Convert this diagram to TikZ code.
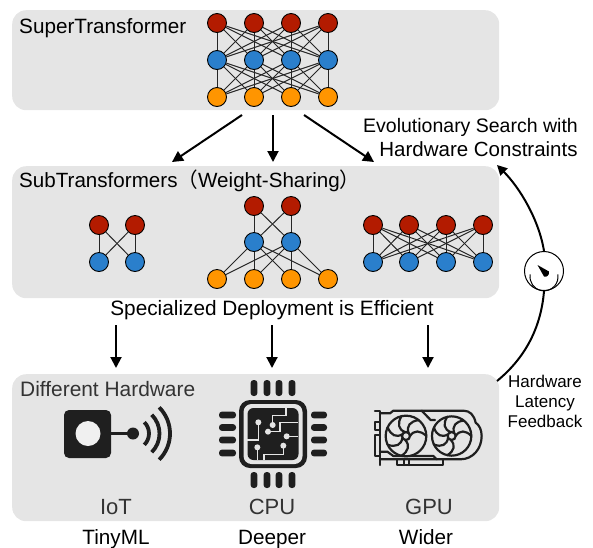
\documentclass[tikz,border=0pt]{standalone}
\usepackage{fontspec}
\setmainfont{Liberation Sans}
\newfontfamily\cjk{Noto Sans CJK SC}
\usetikzlibrary{arrows.meta}
\definecolor{panelgray}{HTML}{E5E5E5}
\definecolor{nred}{HTML}{B31B00}
\definecolor{nblue}{HTML}{2A7FCC}
\definecolor{norange}{HTML}{FF9500}
\definecolor{ink}{HTML}{1F1F1F}
\definecolor{softink}{HTML}{333333}
\tikzset{
  panel/.style={draw=none,fill=panelgray,rounded corners=14pt,inner sep=0pt,minimum width=487pt,anchor=north west},
  neuron/.style={circle,draw=black,line width=0.9pt,minimum size=19pt,inner sep=0pt},
  redn/.style={neuron,fill=nred},
  bluen/.style={neuron,fill=nblue},
  orangen/.style={neuron,fill=norange},
  syn/.style={draw=black!85,line width=1pt},
  flow/.style={draw=black,line width=2pt,-{Triangle[length=11pt,width=11pt]}},
  feedback/.style={draw=black,line width=2pt},
  lab/.style={inner sep=0pt,anchor=base,text=black,font=\fontsize{20.7}{24}\selectfont},
  labl/.style={lab,anchor=base west},
  dev/.style={lab,text=softink,font=\fontsize{22}{26}\selectfont},
  small/.style={lab,font=\fontsize{17}{20}\selectfont},
  trace/.style={draw=panelgray,line width=1.4pt},
  tdot/.style={fill=panelgray},
  gpuline/.style={draw=ink,line width=2.2pt,line join=round,line cap=round},
  pin/.style={fill=ink,rounded corners=3pt}
}
\begin{document}
\begin{tikzpicture}[x=1pt,y=-1pt]
\useasboundingbox (0,0) rectangle (593,547);
% panels
\node[panel,minimum height=100pt] (top) at (12,10) {};
\node[panel,minimum height=132pt] (mid) at (12,166) {};
\node[panel,minimum height=147pt] (bot) at (12,374) {};
% top network
\foreach \i/\x in {1/217,2/254,3/291,4/328}{
  \node[redn] (tr\i) at (\x,23) {};
  \node[bluen] (tb\i) at (\x,60) {};
  \node[orangen] (to\i) at (\x,97) {};
}
\foreach \i in {1,2,3,4}\foreach \j in {1,2,3,4}{
  \draw[syn] (tr\i) -- (tb\j);
  \draw[syn] (tb\i) -- (to\j);
}
% left net
\foreach \i/\x in {1/99,2/135}{
  \node[redn] (ar\i) at (\x,225) {};
  \node[bluen] (ab\i) at (\x,262) {};
}
\foreach \i in {1,2}\foreach \j in {1,2}{\draw[syn] (ar\i) -- (ab\j);}
% centre net
\foreach \i/\x in {1/254,2/291}{
  \node[redn] (cr\i) at (\x,206) {};
  \node[bluen] (cb\i) at (\x,242) {};
}
\foreach \i/\x in {1/217,2/254,3/291,4/328}{
  \node[orangen] (co\i) at (\x,279) {};
}
\foreach \i in {1,2}{
  \foreach \j in {1,2}{\draw[syn] (cr\i) -- (cb\j);}
  \foreach \j in {1,2,3,4}{\draw[syn] (cb\i) -- (co\j);}
}
% right net
\foreach \i/\x in {1/373,2/409,3/446,4/483}{
  \node[redn] (dr\i) at (\x,225) {};
  \node[bluen] (db\i) at (\x,262) {};
}
\foreach \i in {1,2,3,4}\foreach \j in {1,2,3,4}{\draw[syn] (dr\i) -- (db\j);}
% flow arrows
\coordinate (a1) at (242,115); \coordinate (a1e) at (172,162);
\coordinate (a2) at (273,115); \coordinate (a2e) at (273,162);
\coordinate (a3) at (304,115); \coordinate (a3e) at (374,162);
\draw[flow] (a1) -- (a1e);
\draw[flow] (a2) -- (a2e);
\draw[flow] (a3) -- (a3e);
\coordinate (b1) at (116,325); \coordinate (b1e) at (116,368);
\coordinate (b2) at (272,325); \coordinate (b2e) at (272,368);
\coordinate (b3) at (428,325); \coordinate (b3e) at (428,368);
\draw[flow] (b1) -- (b1e);
\draw[flow] (b2) -- (b2e);
\draw[flow] (b3) -- (b3e);
% gauge and feedback
\node[circle,draw=black,line width=1pt,fill=white,minimum size=39pt,inner sep=0pt] (gauge) at (544,271) {};
\coordinate (fbs) at (497,381);
\coordinate (fbe) at (497,165);
\draw[feedback] (fbs) .. controls (525,358) and (541,328) .. (gauge.south);
\draw[feedback,-{Triangle[length=10pt,width=10pt]}] (gauge.north) .. controls (539,220) and (520,188) .. (fbe);
\draw[line width=1pt] (530.2,274.4) arc[start angle=190,end angle=-10,radius=14];
\fill (537.5,265) -- (549,271.5) .. controls (549.5,275) and (547,277.5) .. (544,276.5) -- cycle;
% labels
\node[labl] (t1) at (19,33) {SuperTransformer};
\node[lab,font=\fontsize{19.5}{24}\selectfont] (t2) at (470.5,132) {Evolutionary Search with};
\node[lab,font=\fontsize{20.5}{24}\selectfont] (t3) at (478.5,156) {Hardware Constraints};
\node[labl,font=\fontsize{20.6}{24}\selectfont] (t4) at (19,187) {SubTransformers{\cjk （}Weight-Sharing{\cjk ）}};
\node[lab,font=\fontsize{20.8}{24}\selectfont] (t5) at (272,315) {Specialized Deployment is Efficient};
\node[labl,text=softink,font=\fontsize{20.9}{24}\selectfont] (t6) at (20,396) {Different Hardware};
\node[dev] (t7) at (116,514) {IoT};
\node[dev] (t8) at (272,514) {CPU};
\node[dev] (t9) at (429,514) {GPU};
\node[lab] (t10) at (116,544) {TinyML};
\node[lab] (t11) at (272,544) {Deeper};
\node[lab] (t12) at (426,544) {Wider};
\node[small] (t13) at (545,387) {Hardware};
\node[small] (t14) at (545,407) {Latency};
\node[small] (t15) at (545,427) {Feedback};
% IoT icon
\fill[ink,rounded corners=5pt] (64,410) rectangle (111,458);
\fill[black!6] (88,433.5) circle (12.5);
\draw[ink,line width=3pt] (111,433.5) -- (133,433.5);
\fill[ink] (133,433.5) circle (6);
\foreach \r in {16,26.5,37}{
  \draw[ink,line width=3.8pt] ({133+\r*cos(45)},{433.5-\r*sin(45)}) arc[start angle=-45,end angle=45,radius=\r];
}
% CPU icon
\foreach \x in {254,267,279,292}{
  \fill[pin] (\x-3.4,380) rectangle (\x+3.4,396);
  \fill[pin] (\x-3.4,472) rectangle (\x+3.4,488);
}
\foreach \y in {415,427.5,440,453}{
  \fill[pin] (219,\y-3.4) rectangle (236,\y+3.4);
  \fill[pin] (311,\y-3.4) rectangle (327,\y+3.4);
}
\fill[ink,rounded corners=11pt] (239,400) rectangle (307,468);
\fill[panelgray,rounded corners=8pt] (243.5,404) rectangle (302.5,464);
\fill[ink,rounded corners=6pt] (247.5,408) rectangle (298.5,460);
\begin{scope}[shift={(210,375)},x=0.3333pt,y=-0.3333pt]
  \draw[trace] (145,142) -- (145,195) -- (112,195);
  \fill[tdot] (145,142) circle (3pt);
  \draw[trace] (188,150) -- (188,122) -- (228,122) -- (228,100);
  \fill[tdot] (188,150) circle (3pt);
  \draw[trace] (174,170) -- (210,170) -- (210,143) -- (265,143);
  \fill[tdot] (174,170) circle (3pt);
  \draw[trace] (230,184) -- (265,184);
  \fill[tdot] (230,184) circle (3pt);
  \draw[trace] (142,217) -- (142,255);
  \fill[tdot] (142,217) circle (3pt);
  \draw[trace] (220,212) -- (220,238) -- (162,238) -- (162,255);
  \fill[tdot] (220,212) circle (3pt);
\end{scope}
% GPU icon
\begin{scope}[shift={(300,370)},x=0.3333pt,y=-0.3333pt]
  \draw[gpuline] (225,122) -- (240,122) -- (240,285);
  \draw[gpuline] (225,155) rectangle (240,180);
  \draw[gpuline] (225,195) rectangle (240,258);
  \draw[gpuline] (240,130) -- (270,130) -- (280,122) -- (490,122) .. controls (510,122) and (522,135) .. (527,158) .. controls (538,165) and (545,180) .. (545,198) .. controls (545,235) and (520,268) .. (480,268) -- (240,268);
  \draw[gpuline] (240,245) -- (262,245) -- (280,258) -- (400,258) -- (410,268);
  \draw[gpuline] (365,122) -- (392,150) -- (405,150);
  \draw[gpuline] (290,268) -- (290,285) -- (430,285) -- (430,268);
  \draw[gpuline] (312,268) -- (312,285);
  \draw[gpuline] (326,268) -- (326,285);
  \foreach \cx/\rr in {318/61,455/59}{
    \fill[panelgray] (\cx,198) circle (\rr);
    \draw[gpuline] (\cx,198) circle (\rr);
    \draw[gpuline] (\cx,198) circle (12);
    \foreach \a in {0,51.43,...,308}{
      \begin{scope}[shift={(\cx,198)},rotate=\a]
        \draw[gpuline] (12,0) .. controls (24,-18) and (42,-18) .. (\rr,0);
      \end{scope}
    }
  }
\end{scope}
\end{tikzpicture}
\end{document}
